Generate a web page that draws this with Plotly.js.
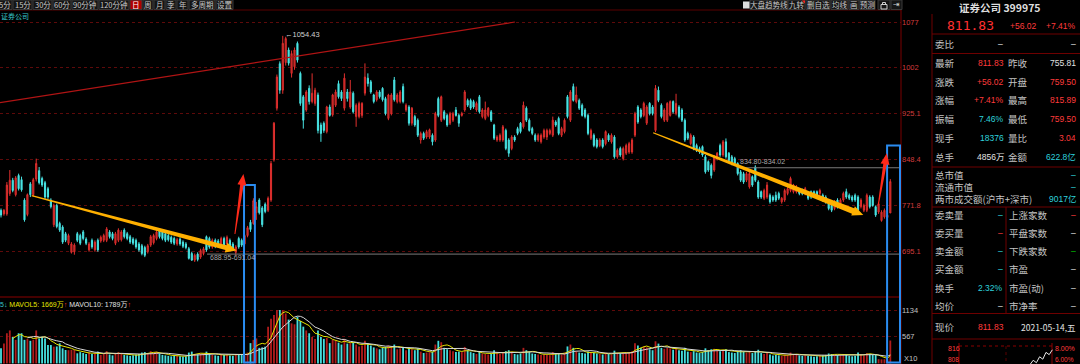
<!DOCTYPE html>
<html><head><meta charset="utf-8">
<script src="https://cdn.plot.ly/plotly-3.0.1.min.js"></script>
<style>html,body{margin:0;padding:0;background:#000;overflow:hidden}#chart{width:1080px;height:364px}</style>
</head><body><div id="chart"></div>
<script>
// ---------------- DATA ----------------
const openP = [
764,758,758,792,814,790,822,815,781,757, 808,790,816,830,817,810,800,781,740,772,
742,736,725,709,694,695,725,722,728,716, 698,714,698,714,713,714,714,728,725,709,
714,715,731,725,720,716,714,708,705,702, 695,706,710,717,731,728,725,722,719,717,
708,716,711,708,700,692,681,691,686,692, 720,717,703,714,713,705,717,708,714,708,
694,717,714,708,722,744,742,760,781,768, 774,764,781,848,934,1008,964,1010,1031,
992,1003,1042,992,953,931,967,945,942,956, 906,909,895,936,923,939,975,961,934,961,
936,959,920,920,922,959,984,978,956,948, 961,967,950,917,925,981,945,945,970,931,
936,909,920,914,881,892,886,886,889,881, 950,914,928,922,909,914,931,922,922,931,
947,947,945,931,953,920,917,922,928,906, 881,881,881,897,881,867,886,900,909,903,
934,914,900,889,881,878,886,886,892,889, 911,917,889,895,953,914,970,945,947,939,
931,922,
884,889,881,872,881,875,889,878,886,853, 867,850,859,861,861,889,936,931,922,909,
942,936,897,964,939,914,914,922,945,925, 936,931,914,892,875,886,872,867,870,853,
845,839,831,850,872,856,878,859,853,850, 842,828,825,814,803,820,836,811,795,784,
786,789,786,789,792,778,781,792,797,795, 795,797,797,792,792,795,795,795,792,789,
786,775,772,767,781,772,781,795,789,786, 789,786,770,764,764,786,786,770,761,747,
753,752,759.5];
const closeP = [
756,764,806,814,797,818,800,798,748,790, 790,815,842,810,806,786,786,770,772,737,
731,711,714,722,708,706,714,709,717,709, 708,703,711,698,719,722,733,720,717,725,
731,728,720,717,711,709,703,698,692,689, 705,720,722,728,720,717,714,715,711,709,
715,708,704,702,684,681,689,682,697,700, 698,703,714,704,706,717,706,719,703,700,
703,703,706,722,735,732,780,770,760,740, 762,784,842,909,986,964,1042,1050,1009,
1025,1031,1014,942,914,961,945,959,964,897, 892,897,936,922,956,961,953,950,984,950,
961,928,939,942,942,986,975,961,945,961, 953,948,925,956,956,948,956,961,945,939,
909,934,906,889,892,884,895,898,878,925, 922,953,917,906,925,925,922,909,925,961,
939,934,936,942,928,931,931,934,914,884, 886,889,903,867,859,886,881,892,895,939,
914,897,892,881,889,889,897,897,897,914, 906,892,900,914,920,961,947,956,934,922,
920,892,
897,872,870,881,870,895,881,889,853,864, 856,867,872,875,881,925,911,920,942,936,
925,925,967,947,920,931,942,945,928,942, 920,914,881,884,889,867,864,861,856,828,
831,822,853,859,856,878,853,847,842,842, 825,814,811,825,825,806,814,786,786,797,
806,778,781,781,784,784,797,800,817,806, 803,792,792,800,784,786,792,786,797,781,
778,767,764,778,770,781,792,786,784,781, 781,764,781,772,789,770,772,756,775,761,
764,755.81,811.83];
const highP = [
767,766,811,831,818,821,825,820,784,792, 811,818,850,836,820,813,803,784,775,775,
745,739,728,725,711,709,728,725,731,719, 711,717,714,717,722,725,736,731,728,728,
734,731,734,728,723,719,717,711,708,705, 708,723,725,731,734,731,728,725,722,720,
718,719,714,711,703,695,692,694,700,703, 722,720,717,717,716,720,720,722,717,711,
706,720,717,725,738,748,784,778,784,771, 777,787,846,911,990,1012,1054.43,1053,1035,
1030,1035,1045,995,956,964,972,992,968,960, 910,912,938,940,958,965,980,964,992,966,
981,962,942,945,944,1008.6,992,981,958,964, 964,969,953,958,959,986,959,964,975,942,
939,936,923,917,895,895,898,900,892,928, 953,955,931,925,928,928,936,925,928,964,
950,950,948,945,956,934,945,936,931,908, 889,892,906,900,884,889,889,903,911,945,
937,917,903,892,892,892,900,900,900,920, 914,920,903,917,956,964,975,970,950,942,
934,925,
900,892,884,884,884,897,892,892,889,867, 870,870,875,878,884,928,939,934,944.8,939,
944,939,972.5,970,942,934,944,947,947,958, 939,934,917,895,892,889,875,870,872,856,
847,842,856,861,875,881,883.6,861,856,853, 844,831,828,828,828,822,839,814,797,800,
811,792,789,795,795,786,800,803,820,808, 806,800,800,803,795,797,797,797,800,792,
789,778,775,781,784,784,795,800,792,789, 792,789,784,775,792,789,789,772,778,764,
767,762,815.89];
const lowP = [
752,755,755,788,794,787,797,795,745,754, 786,787,812,807,803,783,783,767,736,734,
728,708,711,706,692,690,711,706,714,706, 695,700,695,695,710,711,711,717,714,706,
711,712,717,714,708,706,700,695,689,686, 692,703,707,714,717,714,711,712,708,706,
705,705,701,699,682,680,678,679,683,689, 695,700,700,701,703,702,703,705,700,697,
688.95,700,703,705,719,728,740,748,757,736, 759,761,778,845,930,958,958,1005,1005,
985,998,1010,938,900,928,940,942,938,892, 878,893,892,920,920,936,950,946,930,945,
933,925,903,917,918,955,970,958,942,945, 950,945,922,914,922,945,942,942,942,928,
905,905,903,886,875,881,883,883,872,878, 919,911,914,903,906,911,920,903,920,928,
936,931,933,928,925,917,914,919,911,881, 878,878,878,864,853,864,878,889,892,900,
911,895,889,878,878,875,883,881,889,886, 903,889,886,892,917,911,945,942,931,920,
917,889,
881,869,867,869,867,872,878,875,850,850, 853,847,856,858,858,886,908,917,919,906,
922,922,894,944,917,911,911,920,925,922, 917,911,878,881,872,864,861,858,853,825,
828,817,828,847,853,853,850,844,839,839, 822,811,808,811,800,803,811,783,783,781,
783,775,778,778,781,775,778,789,794,792, 792,789,789,789,781,783,789,783,789,778,
775,764,761,764,767,770,778,783,781,778, 778,761,767,761,761,767,770,753,758,745,
750,750,759.5];
// volume in axis units (x10万)
const volume = [
320,420,640,700,560,500,640,640,500,520, 480,500,700,530,567,530,390,390,355,360,
427,320,285,280,290,285,214,240,220,200, 230,200,210,250,180,200,260,190,170,210,
240,220,180,170,160,175,190,200,230,240, 210,260,230,250,200,180,170,160,150,165,
160,150,145,150,230,250,200,190,210,220, 250,200,180,170,160,200,180,190,170,160,
200,190,180,170,230,430,500,530,330,340, 355,780,950,1030,1134,1134,1130,1060,930,850,
830,990,900,780,700,640,560,520,700,560, 520,540,430,500,480,440,400,520,420,430,
440,400,360,380,480,420,380,340,320,300, 330,350,380,360,400,300,320,350,280,330,
300,280,320,250,220,230,240,250,400,480, 450,330,300,280,260,240,250,240,350,280,
240,220,200,250,210,200,190,200,280,220, 200,230,260,280,250,200,190,210,330,280,
240,210,200,190,180,190,185,175,240,200, 210,190,230,360,400,330,260,230,220,210,
250,220,230,210,200,190,230,200,190,270, 220,210,230,220,240,260,430,380,330,360,
340,300,280,470,420,330,310,330,320,290, 320,280,270,330,250,240,260,230,220,240,
320,280,300,310,270,260,290,300,240,230, 220,260,280,250,230,260,220,250,290,220,
200,230,190,170,180,170,160,190,180,230, 200,180,170,160,170,160,150,140,150,160,
170,180,210,200,190,180,170,200,180,160, 150,160,230,200,170,220,200,190,180,90,
85,88,85,486];
const priceTicks = [695.1, 771.8, 848.4, 925.1, 1002, 1077];
const priceTickText = ['695.1', '771.8', '848.4', '925.1', '1002', '1077'];
const volTicks = [567, 1134];
const volTickText = ['567', '1134'];
const peakValue = 1054.43;
const gapLow = [688.95, 691.04];
const gapHigh = [834.80, 834.02];
const stockName = '证券公司';
const stockCode = '399975';
const lastPrice = '811.83';
const changeAbs = '+56.02';
const changePct = '+7.41%';
const quoteLabelsL = ['最新', '涨跌', '涨幅', '振幅', '现手', '总手'];
const quoteValuesL = ['811.83', '+56.02', '+7.41%', '7.46%', '18376', '4856万'];
const quoteLabelsR = ['昨收', '开盘', '最高', '最低', '量比', '金额'];
const quoteValuesR = ['755.81', '759.50', '815.89', '759.50', '3.04', '622.8亿'];
const bookLabelsL = ['委卖量', '委买量', '卖金额', '买金额', '换手', '均价'];
const bookValuesL = ['–', '–', '–', '–', '2.32%', '–'];
const bookLabelsR = ['上涨家数', '平盘家数', '下跌家数', '市盈', '市盈(动)', '市净率'];
const bookValuesR = ['–', '–', '–', '–', '–', '–'];
const toolLeft = ['5分', '15分', '30分', '60分', '90分钟', '120分钟', '日', '周', '月', '季', '年', '多周期', '设置'];
const toolRight = ['大盘趋势线', '九转', '删自选', '均线', '画', '预测'];
const mavolText = ['MAVOL5: 1669万', 'MAVOL10: 1789万'];
const miniVals = [806.5, 809, 807.6, 811, 809.6, 813.5, 812.2, 815];
const miniScale = ['816', '8.00%', '808', '6.00%'];
const dateText = '2021-05-14,五';
const turnoverText = '9017亿';

// ---------------- GEOMETRY ----------------
const W = 901, H = 354, TOP = 10;
const X0 = -0.34, X1 = 306.64;
const Y0 = 619.6, Y1 = 1097.5;
const V0 = -13, V1 = 1410;
const D0 = 67 / 354;
const qx = px => px / W;
const qy = py => (364 - py) / H;
const ix = i => (i - X0) / (X1 - X0) * W;              // index -> px
const iy = p => TOP + (Y1 - p) / (Y1 - Y0) * 287;       // price -> px

const RED = '#ff3b3b', CYAN = '#2ed2dc', WHITE = '#e2e2e2', LAB = '#c4c4c4', GRN = '#00c000';
const BORDER = '#6e0000';
const FONT = 'Liberation Sans, Noto Sans CJK SC, sans-serif';
const CJK = 'Noto Sans CJK SC, Liberation Sans, sans-serif';

const N = closeP.length;
const idx = Array.from({length: N}, (_, i) => i);
const volColors = idx.map(i => closeP[i] >= openP[i] ? '#b01c1c' : '#45dede');
function ma(n) {
  return idx.map(i => {
    if (i < n - 1) return null;
    let s = 0; for (let k = i - n + 1; k <= i; k++) s += volume[k];
    return s / n;
  });
}

const traces = [
  {type: 'candlestick', x: idx, open: openP, high: highP, low: lowP, close: closeP,
   xaxis: 'x', yaxis: 'y', whiskerwidth: 0, hoverinfo: 'skip', showlegend: false,
   increasing: {line: {color: '#e0302e', width: 1}, fillcolor: '#a8181b'},
   decreasing: {line: {color: '#48e4e4', width: 1}, fillcolor: '#48e4e4'}},
  {type: 'bar', x: idx, y: volume, xaxis: 'x', yaxis: 'y2', width: 0.62,
   marker: {color: volColors, line: {width: 0}}, hoverinfo: 'skip', showlegend: false},
  {type: 'scatter', mode: 'lines', x: idx, y: ma(5), xaxis: 'x', yaxis: 'y2',
   line: {color: '#e6e600', width: 1}, hoverinfo: 'skip', showlegend: false},
  {type: 'scatter', mode: 'lines', x: idx, y: ma(10), xaxis: 'x', yaxis: 'y2',
   line: {color: '#d8d8d8', width: 1}, hoverinfo: 'skip', showlegend: false}
];

// ---------------- SHAPES ----------------
const shapes = [];
function pline(x0, y0, x1, y1, color, width, dash) {
  shapes.push({type: 'line', xref: 'paper', yref: 'paper', x0: qx(x0), y0: qy(y0), x1: qx(x1), y1: qy(y1),
    line: {color: color, width: width || 1, dash: dash || 'solid'}});
}
function prect(x0, y0, x1, y1, fill, line, lw) {
  shapes.push({type: 'rect', xref: 'paper', yref: 'paper', x0: qx(x0), y0: qy(y0), x1: qx(x1), y1: qy(y1),
    fillcolor: fill || 'rgba(0,0,0,0)', line: {color: line || 'rgba(0,0,0,0)', width: lw === undefined ? 1 : lw}});
}
function arrow(i0, p0, i1, p1, color, wTail, wNeck, headLen, headW) {
  const x0 = ix(i0), y0 = iy(p0), x1 = ix(i1), y1 = iy(p1);
  const dx = x1 - x0, dy = y1 - y0, L = Math.hypot(dx, dy);
  const ux = dx / L, uy = dy / L, nx = -uy, ny = ux;
  const bx = x1 - ux * headLen, by = y1 - uy * headLen;
  const pts = [[x0 + nx * wTail / 2, y0 + ny * wTail / 2], [bx + nx * wNeck / 2, by + ny * wNeck / 2],
    [bx + nx * headW / 2, by + ny * headW / 2], [x1, y1], [bx - nx * headW / 2, by - ny * headW / 2],
    [bx - nx * wNeck / 2, by - ny * wNeck / 2], [x0 - nx * wTail / 2, y0 - ny * wTail / 2]];
  const path = 'M' + pts.map(p => qx(p[0]).toFixed(5) + ',' + qy(p[1]).toFixed(5)).join('L') + 'Z';
  shapes.push({type: 'path', xref: 'paper', yref: 'paper', path: path, fillcolor: color, line: {width: 0}});
}

// frame lines
pline(0, 10, 901, 10, '#5a0000', 1);
pline(901, 10, 901, 364, '#7a0000', 1);
pline(0, 297, 901, 297, '#8a0000', 1);
// trend line (index/price coordinates)
pline(ix(-0.34), iy(943.2), ix(175.1), iy(1077.5), '#b01414', 1.2);
// gap lines
pline(ix(70.2), iy(gapLow[1]), 901, iy(gapLow[1]), '#7a7a7a', 1);
pline(ix(250.8), iy(gapHigh[0]), 901, iy(gapHigh[0]), '#7a7a7a', 1);
// blue boxes
prect(ix(82.8), iy(806.1), ix(86.5), 362.5, null, '#2a8cf0', 2);
prect(ix(301.9), iy(871.9), 900, 362.5, null, '#2a8cf0', 2);
// orange arrows
arrow(10.46, 788.3, 80.3, 697.1, '#ffb000', 1.2, 5, 11, 10);
arrow(222.2, 893.2, 293.8, 756.2, '#ffb000', 1.2, 6, 11, 10);
// red arrows
arrow(79.7, 724.5, 82.6, 824.4, '#ff2a1a', 1.0, 3.5, 11, 9);
arrow(298.9, 772.8, 301.8, 858.9, '#ff2a1a', 1.0, 3.5, 11, 9);

// toolbar boxes
const toolLeftBox = [[-2,12],[13,32],[33,52],[53,71],[72,98],[99,129],[130,142],[143,153],[154,165],[166,176],[177,188],[189,215],[216,233]];
toolLeftBox.forEach((b, k) => prect(b[0], 0, b[1], 9.5, toolLeft[k] === '日' ? '#b00000' : '#151515', '#3a3a3a', 1));
const toolRightBox = [[750,788],[788,805],[806,830],[831,848],[849,859],[860,875],[878,890],[891,902]];
toolRightBox.forEach(b => prect(b[0], 0, b[1], 9.5, '#151515', '#3a3a3a', 1));
prect(743, 1.5, 749.5, 8.5, '#dcdcdc', '#dcdcdc', 0);
shapes.push({type: 'path', xref: 'paper', yref: 'paper', fillcolor: '#ff2020', line: {width: 0},
  path: 'M' + qx(802) + ',' + qy(0.5) + 'L' + qx(805) + ',' + qy(0.5) + 'L' + qx(805) + ',' + qy(3.5) + 'Z'});
// lock icon
prect(881, 4.5, 887, 9, '#151515', '#d0d0d0', 1);
shapes.push({type: 'path', xref: 'paper', yref: 'paper', line: {color: '#d0d0d0', width: 1},
  path: 'M' + qx(882.5) + ',' + qy(4.5) + 'L' + qx(882.5) + ',' + qy(2.5) + 'L' + qx(885.5) + ',' + qy(2.5) + 'L' + qx(885.5) + ',' + qy(4.5)});

// right panel lines
pline(932, 14, 932, 364, BORDER, 1);
pline(932, 34, 1080, 34, BORDER, 1);
pline(932, 53.5, 1080, 53.5, BORDER, 1);
pline(932, 167, 1080, 167, BORDER, 1);
pline(932, 207, 1080, 207, BORDER, 1);
pline(1006, 207, 1006, 313.5, BORDER, 1);
pline(932, 313.5, 1080, 313.5, BORDER, 1);
pline(932, 339, 1080, 339, BORDER, 1);
// mini chart
pline(959, 346, 1052, 346, '#8a0000', 1, 'dot');
pline(959, 343, 959, 364, '#8a0000', 1);
pline(1052, 343, 1052, 364, '#8a0000', 1);
pline(1006, 346, 1006, 364, '#5a0000', 1, 'dot');
{
  const mp = miniVals.map((v, k) => [1030 + k * 3.2, 348 + (816 - v) * 1.75]);
  shapes.push({type: 'path', xref: 'paper', yref: 'paper', line: {color: '#e8e8e8', width: 1},
    path: 'M' + mp.map(p => qx(p[0]).toFixed(5) + ',' + qy(p[1]).toFixed(5)).join('L')});
}

// ---------------- ANNOTATIONS ----------------
const ann = [];
function T(text, x, y, size, color, anchor, family) {
  ann.push({text: text, x: qx(x), y: qy(y), xref: 'paper', yref: 'paper', showarrow: false,
    xanchor: anchor || 'left', yanchor: 'middle', borderpad: 0,
    font: {size: size, color: color, family: family || FONT}});
}
// toolbar texts
toolLeftBox.forEach((b, k) => T(toolLeft[k], (b[0] + b[1]) / 2, 5, 7.5, toolLeft[k] === '日' ? '#ffffff' : '#c8c8c8', 'center', CJK));
toolRight.forEach((t, k) => T(t, (toolRightBox[k][0] + toolRightBox[k][1]) / 2, 5, 7.5, '#c8c8c8', 'center', CJK));
T('⇥', 896.5, 5, 8, '#d0d0d0', 'center', 'DejaVu Sans');
// stock name in chart
T(stockName, 0, 16, 7, '#38c8c8', 'left', CJK);
// peak label
T('←' + peakValue.toFixed(2), ix(96) + 1.5, iy(peakValue) - 1.5, 7.5, '#d0d0d0', 'left', FONT);
// gap labels
T(gapLow[0].toFixed(2) + '-' + gapLow[1].toFixed(2), ix(70.9), iy(gapLow[1]) + 3, 7, '#a8a8a8', 'left', FONT);
T(gapHigh[0].toFixed(2) + '-' + gapHigh[1].toFixed(2), ix(251.5), iy(gapHigh[0]) - 6.5, 7, '#a8a8a8', 'left', FONT);
// mavol legend
T('<span style="color:#38c8c8">5↓</span> <span style="color:#e6e600">' + mavolText[0] + '</span><span style="color:#ff3030">↑</span> <span style="color:#e0e0e0">' + mavolText[1] + '</span><span style="color:#ff3030">↑</span>',
  -1, 305, 7, '#e6e600', 'left', FONT);
T('X10', 903, 358, 7.5, '#c0c0c0', 'left', FONT);

// right panel
T('<b>' + stockName + ' ' + stockCode + '</b>', 1000, 7.5, 10.5, '#dedede', 'center', CJK);
T(lastPrice, 946, 25.5, 13, '#ff3030', 'left', 'DejaVu Sans Mono');
T(changeAbs, 1038, 26, 8.5, RED, 'right', FONT);
T(changePct, 1077, 26, 8.5, RED, 'right', FONT);
T('委比', 934, 44, 9.5, LAB, 'left', CJK);
T('–', 1004, 44, 8.5, WHITE, 'right', FONT);
T('–', 1077, 44, 8.5, WHITE, 'right', FONT);
const rowY1 = [63, 81.7, 100.4, 119.1, 137.8, 156.5];
const colL1 = [RED, RED, RED, CYAN, CYAN, WHITE];
const colR1 = [WHITE, RED, RED, RED, RED, CYAN];
quoteLabelsL.forEach((t, k) => {
  T(t, 934, rowY1[k], 9.5, LAB, 'left', CJK);
  T(quoteValuesL[k], 1005, rowY1[k], 8.5, colL1[k], 'right', FONT);
  T(quoteLabelsR[k], 1007, rowY1[k], 9.5, LAB, 'left', CJK);
  T(quoteValuesR[k], 1077, rowY1[k], 8.5, colR1[k], 'right', FONT);
});
T('总市值', 934, 174.5, 9.5, LAB, 'left', CJK);
T('–', 1077, 174.5, 8.5, CYAN, 'right', FONT);
T('流通市值', 934, 186.5, 9.5, LAB, 'left', CJK);
T('–', 1077, 186.5, 8.5, CYAN, 'right', FONT);
T('两市成交额(沪市+深市)', 934, 199, 9.5, LAB, 'left', CJK);
T(turnoverText, 1077, 199, 8.5, CYAN, 'right', FONT);
const rowY2 = [215, 233, 251, 269, 287.5, 306];
const colL2 = [CYAN, RED, CYAN, CYAN, CYAN, WHITE];
const colR2 = [RED, WHITE, GRN, WHITE, WHITE, WHITE];
bookLabelsL.forEach((t, k) => {
  T(t, 934, rowY2[k], 9.5, LAB, 'left', CJK);
  T(bookValuesL[k], 1004, rowY2[k], 8.5, colL2[k], 'right', FONT);
  T(bookLabelsR[k], 1008, rowY2[k], 9.5, LAB, 'left', CJK);
  T(bookValuesR[k], 1077, rowY2[k], 8.5, colR2[k], 'right', FONT);
});
T('现价', 934, 327, 9.5, LAB, 'left', CJK);
T(lastPrice, 1005, 327, 8.5, RED, 'right', FONT);
T(dateText, 1077, 327, 8.5, WHITE, 'right', CJK);
T(miniScale[0], 947, 348.5, 7, RED, 'left', FONT);
T(miniScale[1], 1054, 348.5, 7, RED, 'left', FONT);
T(miniScale[2], 947, 359, 6.5, RED, 'left', FONT);
T(miniScale[3], 1054, 359, 6.5, RED, 'left', FONT);

// ---------------- LAYOUT ----------------
const layout = {
  width: 1080, height: 364,
  margin: {l: 0, r: 179, t: 10, b: 0, pad: 0},
  paper_bgcolor: '#000', plot_bgcolor: '#000',
  font: {family: FONT, color: '#c0c0c0'},
  showlegend: false, boxgap: 0.45, dragmode: false,
  xaxis: {domain: [0, 1], range: [X0, X1], anchor: 'y2', showgrid: false, zeroline: false,
    showticklabels: false, ticks: '', showline: false, rangeslider: {visible: false}, fixedrange: true},
  yaxis: {domain: [D0, 1], range: [Y0, Y1], side: 'right', anchor: 'x', tickvals: priceTicks, ticktext: priceTickText,
    tickfont: {color: '#d23c3c', size: 7.5, family: FONT}, ticks: '', showgrid: true, gridcolor: '#5e0a0a',
    griddash: 'dot', gridwidth: 1, zeroline: false, showline: false, fixedrange: true},
  yaxis2: {domain: [0, D0], range: [V0, V1], side: 'right', anchor: 'x', tickvals: volTicks, ticktext: volTickText,
    tickfont: {color: '#c0c0c0', size: 7.5, family: FONT}, ticks: '', showgrid: true, gridcolor: '#5e0a0a',
    griddash: 'dot', gridwidth: 1, zeroline: false, showline: false, fixedrange: true},
  shapes: shapes,
  annotations: ann
};
Plotly.newPlot('chart', traces, layout, {displayModeBar: false, staticPlot: true});
</script>
</body></html>
